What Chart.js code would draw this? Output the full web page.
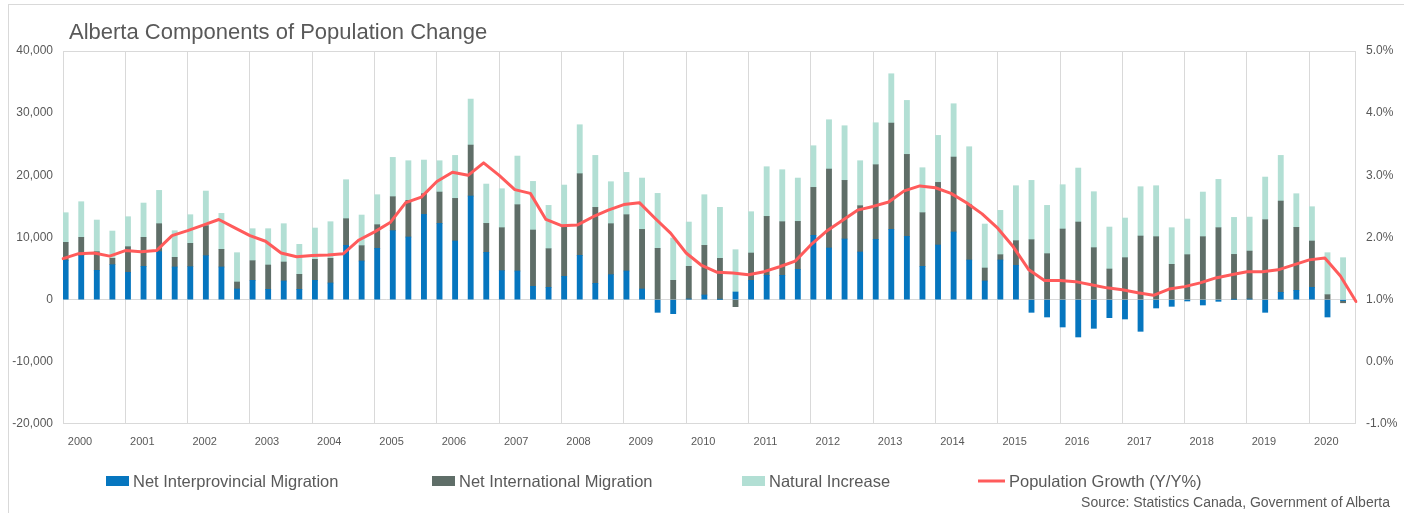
<!DOCTYPE html>
<html>
<head>
<meta charset="utf-8">
<script src="https://cdn.jsdelivr.net/npm/chart.js@4.4.0/dist/chart.umd.min.js"></script>
<style>
html,body{margin:0;padding:0;background:#fff;}
#wrap{position:relative;width:1404px;height:513px;overflow:hidden;font-family:"Liberation Sans",Arial,sans-serif;}
#frame{position:absolute;left:8px;top:4px;width:1500px;height:600px;border:1px solid #d9d9d9;box-sizing:border-box;}
#title{position:absolute;left:69px;top:21px;font-size:22px;line-height:1;color:#595959;white-space:nowrap;}
#source{position:absolute;right:14px;top:495px;font-size:14px;line-height:1;color:#595959;white-space:nowrap;}
#c{position:absolute;left:0;top:0;}
</style>
</head>
<body>
<div id="wrap">
  <div id="frame"></div>
  <canvas id="c" width="1404" height="513"></canvas>
  <div id="title">Alberta Components of Population Change</div>
  <div id="source">Source: Statistics Canada, Government of Alberta</div>
</div>
<script>
// ---- DATA ----
const years = ['2000','2001','2002','2003','2004','2005','2006','2007','2008','2009','2010',
               '2011','2012','2013','2014','2015','2016','2017','2018','2019','2020'];
const quarters = ['Q1','Q2','Q3','Q4'];

const interprovincial = [
  6325, 7075, 4717, 5628,   4395, 5360, 7718, 5253,   5306, 7075, 5253, 1715,
  3109, 1662, 3002, 1662,   3109, 2680, 8737, 6218,   8254, 11095, 10077, 13722,
  12274, 9434, 16670, 7611, 4663, 4610, 2144, 1983,   3752, 7129, 2626, 4020,
  4610, 1715, -2037, -2251, 107, 750, 50, 1233,       3109, 3913, 3913, 4878,
  10345, 8308, 9755, 7665,  9702, 11310, 10184, 5360, 8790, 10881, 6378, 3002,
  6378, 5521, -2037, -2787, -4395, -6003, -4610, -2894, -3109, -5092, -1340, -1072,
  -214, -858, -268, 50,     100, -2037, 1179, 1501,   1983, -2787, -150
];
const international = [
  2894, 2948, 3002, 1018,   4127, 4663, 4502, 1554,   3752, 4824, 2841, 1126,
  3162, 3913, 3055, 2412,   3377, 3966, 4288, 2466,   3806, 5467, 5896, 3323,
  5038, 6861, 8201, 4663,   6914, 10666, 9058, 6218,  8040, 13132, 12221, 8201,
  9058, 9594, 8254, 3109,   5253, 7986, 6600, -1126,  4395, 9487, 8630, 7718,
  7718, 12703, 9434, 7450,  12006, 17098, 13186, 8630, 10077, 12060, 8898, 2090,
  858, 3966, 9648, 7397,    11363, 12489, 8362, 4931, 6754, 10238, 10130, 5682,
  7236, 10130, 11578, 7236, 7718, 12864, 14686, 10130, 7450, 804, -350
];
const naturalIncrease = [
  4770, 5735, 5092, 4395,   4824, 5521, 5360, 4288,   4610, 5574, 5789, 4717,
  5146, 5842, 6164, 4824,   5038, 5896, 6271, 4931,   4824, 6325, 6378, 5414,
  5038, 6914, 7397, 6325,   6271, 7826, 7826, 6968,   6646, 7879, 8362, 6754,
  6807, 8254, 8844, 6807,   7129, 8147, 8201, 6807,   6646, 7986, 8362, 6968,
  6700, 7933, 8790, 7236,   6754, 7933, 8683, 7236,   7558, 8576, 9326, 7075,
  7129, 8844, 9541, 7772,   7129, 8683, 9005, 6754,   6378, 7933, 8201, 5896,
  5735, 7182, 7772, 5950,   5467, 6861, 7343, 5414,   5521, 6754, 6754
];
const populationGrowth = [
  1.66, 1.74, 1.75, 1.70,  1.79, 1.77, 1.79, 2.03,  2.11, 2.20, 2.29, 2.16,
  2.03, 1.94, 1.75, 1.69,  1.71, 1.72, 1.74, 1.96,  2.09, 2.24, 2.56, 2.65,
  2.90, 3.05, 3.00, 3.20,  3.00, 2.77, 2.71, 2.29,  2.19, 2.20, 2.33, 2.44,
  2.53, 2.56, 2.31, 2.07,  1.75, 1.55, 1.44, 1.43,  1.40, 1.45, 1.53, 1.62,
  1.88, 2.10, 2.27, 2.44,  2.50, 2.57, 2.75, 2.83,  2.80, 2.71, 2.56, 2.38,
  2.15, 1.85, 1.48, 1.31,  1.31, 1.29, 1.24, 1.19,  1.16, 1.11, 1.07, 1.17,
  1.21, 1.27, 1.35, 1.40,  1.45, 1.45, 1.48, 1.56,  1.64, 1.67, 1.38, 0.97
];

const quarterLabels = [];
years.forEach(y => quarters.forEach(q => quarterLabels.push(y + ' ' + q)));
const barCategories = quarterLabels.slice(0, interprovincial.length);   // 2000 Q1 .. 2020 Q3
const lineCategories = quarterLabels.slice(0, populationGrowth.length); // 2000 Q1 .. 2020 Q4

// bar points: x = index of the quarter in barCategories
const toPoints = arr => arr.map((v, i) => ({ x: i, y: v }));

// ---- STYLE ----
const COLORS = {
  blue: '#0676BF',
  gray: '#5F6E68',
  teal: '#B2DFD4',
  red: '#FF5B5B',
  text: '#595959',
  grid: '#D9D9D9'
};
const FONT = '"Liberation Sans", Arial, sans-serif';
const BAR_W = 5.2;        // px
const BAR_SHIFT = 0.17;   // bars sit at the left edge of each quarter slot
const BAR_STYLE = { barThickness: BAR_W, grouped: false, borderWidth: 0,
                    xAxisID: 'xb', yAxisID: 'y', stack: 'components', order: 1 };

const plotBorder = {
  id: 'plotBorder',
  beforeDatasetsDraw(chart) {
    const {ctx, chartArea: a} = chart;
    ctx.save();
    ctx.strokeStyle = COLORS.grid;
    ctx.lineWidth = 1;
    ctx.strokeRect(Math.round(a.left) + 0.5, Math.round(a.top) + 0.5,
                   Math.round(a.right - a.left) - 1, Math.round(a.bottom - a.top) - 1);
    ctx.restore();
  }
};

const customLegend = {
  id: 'customLegend',
  afterDraw(chart) {
    const ctx = chart.ctx;
    const starts = [106, 432, 742, 978];
    const y = 481;
    ctx.save();
    ctx.font = '16.5px ' + FONT;
    ctx.textBaseline = 'middle';
    chart.data.datasets.filter(d => d.label).forEach((ds, i) => {
      const x = starts[i];
      let tx;
      if (ds.type === 'line') {
        ctx.strokeStyle = ds.borderColor;
        ctx.lineWidth = 3;
        ctx.beginPath();
        ctx.moveTo(x, y);
        ctx.lineTo(x + 27, y);
        ctx.stroke();
        tx = x + 31;
      } else {
        ctx.fillStyle = ds.backgroundColor;
        ctx.fillRect(x, y - 5, 23, 10);
        tx = x + 27;
      }
      ctx.fillStyle = COLORS.text;
      ctx.fillText(ds.label, tx, y + 1);
    });
    ctx.restore();
  }
};

new Chart(document.getElementById('c'), {
  type: 'bar',
  data: {
    datasets: [
      Object.assign({ label: 'Net Interprovincial Migration', data: toPoints(interprovincial),
        backgroundColor: COLORS.blue }, BAR_STYLE),
      Object.assign({ label: 'Net International Migration', data: toPoints(international),
        backgroundColor: COLORS.gray }, BAR_STYLE),
      Object.assign({ label: 'Natural Increase', data: toPoints(naturalIncrease),
        backgroundColor: COLORS.teal }, BAR_STYLE),
      { type: 'line', label: 'Population Growth (Y/Y%)', data: populationGrowth,
        borderColor: COLORS.red, backgroundColor: COLORS.red, borderWidth: 3,
        pointRadius: 0, tension: 0, borderJoinStyle: 'round', borderCapStyle: 'round',
        xAxisID: 'x', yAxisID: 'y2', order: 0 }
    ]
  },
  options: {
    responsive: false,
    animation: false,
    devicePixelRatio: 1,
    layout: { padding: { top: 51, left: 0, right: 0, bottom: 59 } },
    plugins: {
      legend: { display: false },
      tooltip: { enabled: false },
      title: { display: false }
    },
    scales: {
      // quarter axis: year gridlines, year labels, and the growth line
      x: {
        type: 'category',
        labels: lineCategories,
        position: 'bottom',
        offset: false,
        border: { display: false },
        grid: {
          offset: false,
          drawTicks: false,
          color: ctx => (ctx.index % 4 === 0 ? COLORS.grid : 'rgba(0,0,0,0)')
        },
        ticks: {
          autoSkip: false,
          maxRotation: 0,
          minRotation: 0,
          padding: 11,
          labelOffset: 17,
          color: COLORS.text,
          font: { family: FONT, size: 11 },
          callback: (v, i) => (i % 4 === 0 ? years[i / 4] : '')
        },
        afterFit: s => { s.height = 30; }
      },
      // bar positions (hidden)
      xb: {
        type: 'linear',
        display: false,
        offset: false,
        stacked: true,
        min: -BAR_SHIFT,
        max: barCategories.length - BAR_SHIFT,
        grid: { offset: false }
      },
      y: {
        position: 'left',
        stacked: true,
        min: -20000,
        max: 40000,
        border: { display: false },
        grid: {
          drawTicks: false,
          color: ctx => (ctx.tick && ctx.tick.value === 0 ? COLORS.grid : 'rgba(0,0,0,0)')
        },
        ticks: {
          stepSize: 10000,
          padding: 10,
          color: COLORS.text,
          font: { family: FONT, size: 12 },
          callback: v => v.toLocaleString('en-US')
        },
        afterFit: s => { s.width = 63; }
      },
      y2: {
        position: 'right',
        min: -1,
        max: 5,
        border: { display: false },
        grid: { display: false, drawTicks: false },
        ticks: {
          stepSize: 1,
          padding: 10,
          color: COLORS.text,
          font: { family: FONT, size: 12 },
          callback: v => v.toFixed(1) + '%'
        },
        afterFit: s => { s.width = 48; }
      }
    }
  },
  plugins: [plotBorder, customLegend]
});
</script>
</body>
</html>
